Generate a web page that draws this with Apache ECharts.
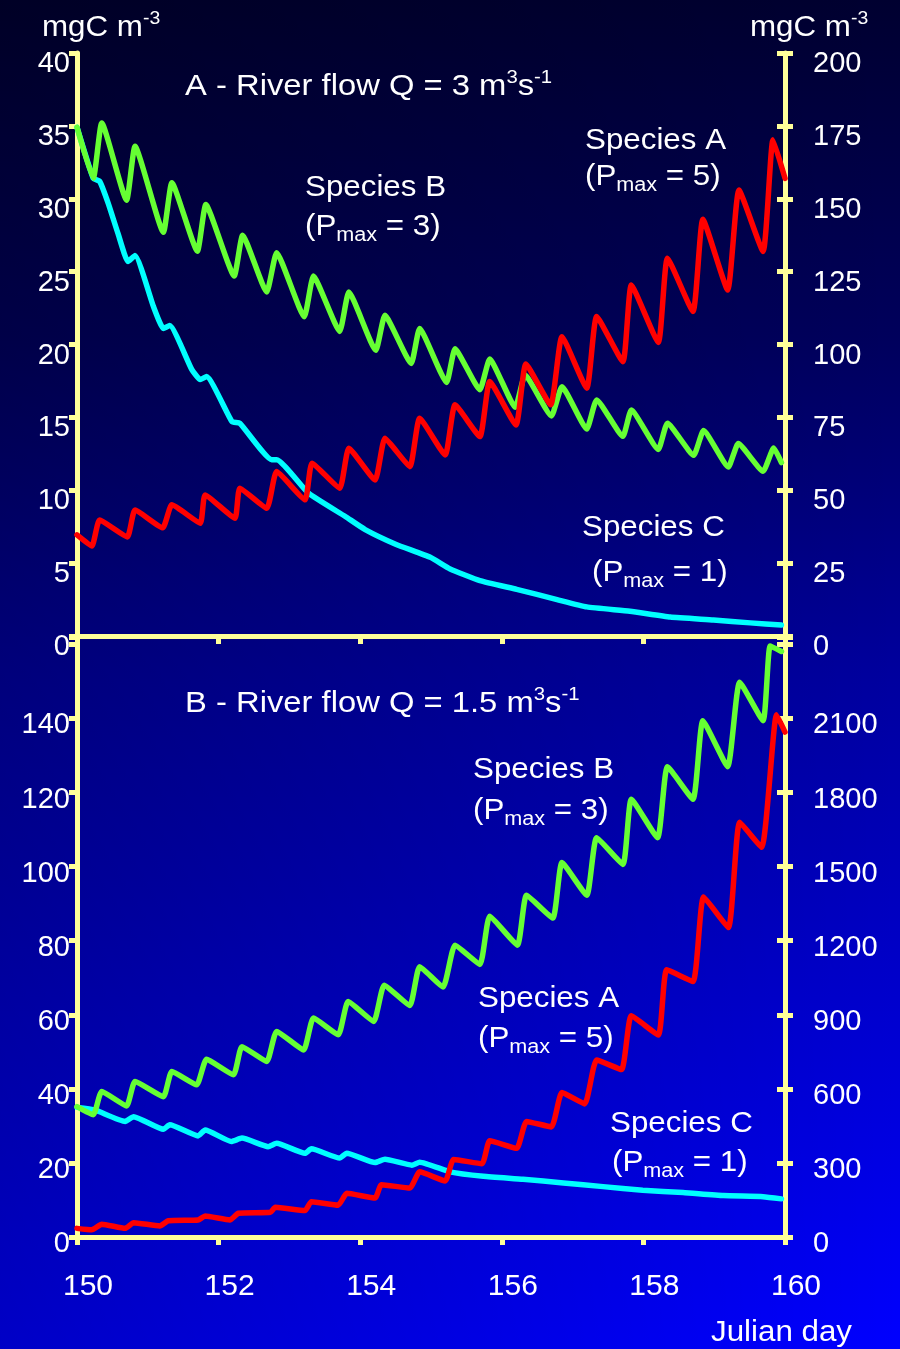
<!DOCTYPE html>
<html lang="en">
<head>
  <meta charset="UTF-8">
  <title>Species biomass, river flow A / B</title>
  <style>
    * { margin: 0; padding: 0; }
  </style>
  <script src="https://cdn.jsdelivr.net/npm/echarts/dist/echarts.min.js"></script>
</head>
<body>
  <div id="main" style="width: 900px; height: 1349px;"></div>
  <script>
    const chart = echarts.init(document.getElementById('main'))

    // x axis: Julian day
    const dayAxis = [150, 160, 2]

    // panel A (Q = 3 m3 s-1): left axis 0-40, right axis 0-200
    const aLeftAxis = [0, 40, 5]
    const aRightAxis = [0, 200, 25]
    // panel B (Q = 1.5 m3 s-1): left axis 0-140, right axis 0-2100
    const bLeftAxis = [0, 162, 20, 140]
    const bRightAxis = [0, 2430, 300, 2100]

    // panel A, species B (Pmax = 3), left axis
    const aSpeciesB = [
      [150.00, 34.9], [150.23, 31.4], [150.35, 35.2], [150.70, 29.9], [150.82, 33.6],
      [151.22, 27.7], [151.34, 31.1], [151.70, 26.4], [151.82, 29.6], [152.22, 24.7],
      [152.34, 27.5], [152.68, 23.6], [152.82, 26.3], [153.21, 21.9], [153.34, 24.7],
      [153.71, 20.9], [153.84, 23.6], [154.22, 19.6], [154.35, 22.0], [154.72, 18.7],
      [154.84, 21.1], [155.22, 17.4], [155.34, 19.7], [155.69, 16.9], [155.83, 19.0],
      [156.19, 15.7], [156.33, 17.9], [156.70, 15.1], [156.85, 17.1], [157.20, 14.2],
      [157.34, 16.2], [157.71, 13.7], [157.83, 15.5], [158.21, 12.8], [158.34, 14.6],
      [158.71, 12.4], [158.85, 14.1], [159.20, 11.6], [159.34, 13.2], [159.69, 11.3],
      [159.84, 12.9], [159.95, 11.9]
    ]
    // panel A, species C (Pmax = 1), left axis
    const aSpeciesC = [
      [150.00, 34.9], [150.23, 31.4], [150.32, 31.2], [150.44, 29.7], [150.58, 27.6],
      [150.72, 25.7], [150.82, 26.1], [151.08, 22.6], [151.22, 21.1], [151.31, 21.3],
      [151.62, 18.3], [151.74, 17.6], [151.83, 17.8], [152.19, 14.7], [152.30, 14.6],
      [152.75, 12.1], [152.82, 12.1], [153.27, 9.8], [153.79, 8.2], [154.07, 7.3],
      [154.50, 6.3], [154.99, 5.4], [155.27, 4.6], [155.69, 3.8], [156.21, 3.2],
      [156.78, 2.5], [157.20, 2.0], [157.81, 1.7], [158.38, 1.3], [158.99, 1.1],
      [159.51, 0.9], [159.95, 0.75]
    ]
    // panel A, species A (Pmax = 5), right axis
    const aSpeciesA = [
      [150.00, 34.7], [150.21, 30.9], [150.32, 39.8], [150.71, 34.0], [150.82, 43.2],
      [151.21, 37.1], [151.34, 45.0], [151.74, 38.7], [151.81, 48.4], [152.23, 40.4],
      [152.30, 50.7], [152.68, 43.8], [152.82, 56.4], [153.22, 46.7], [153.32, 59.3],
      [153.71, 50.7], [153.84, 64.4], [154.21, 53.5], [154.35, 67.8], [154.70, 58.1],
      [154.84, 74.7], [155.20, 62.1], [155.34, 79.3], [155.69, 68.4], [155.83, 87.3],
      [156.20, 72.4], [156.34, 93.3], [156.69, 79.3], [156.85, 102.7], [157.20, 85.0],
      [157.34, 109.6], [157.71, 94.1], [157.83, 120.4], [158.21, 100.7], [158.34, 129.6],
      [158.70, 111.3], [158.84, 143.0], [159.19, 118.7], [159.35, 153.0], [159.69, 131.9],
      [159.83, 170.2], [160.00, 157.0]
    ]

    // panel B, species B (Pmax = 3), left axis
    const bSpeciesB = [
      [150.00, 35.2], [150.23, 33.0], [150.35, 39.3], [150.70, 35.4], [150.82, 42.0],
      [151.22, 37.9], [151.34, 44.7], [151.69, 41.1], [151.83, 48.0], [152.21, 43.8],
      [152.33, 51.4], [152.68, 47.4], [152.82, 55.5], [153.20, 50.5], [153.34, 59.1],
      [153.69, 54.6], [153.83, 63.6], [154.19, 58.2], [154.34, 68.0], [154.70, 62.5],
      [154.84, 73.0], [155.17, 67.5], [155.34, 78.8], [155.69, 73.6], [155.83, 86.6],
      [156.22, 78.8], [156.35, 92.3], [156.72, 86.1], [156.85, 101.1], [157.20, 92.3],
      [157.34, 107.8], [157.71, 100.6], [157.83, 118.2], [158.20, 107.8], [158.34, 127.0],
      [158.70, 118.2], [158.84, 139.4], [159.19, 127.0], [159.36, 149.8], [159.69, 139.4],
      [159.79, 159.6], [159.95, 158.1]
    ]
    // panel B, species C (Pmax = 1), left axis
    const bSpeciesC = [
      [150.00, 35.0], [150.25, 34.3], [150.68, 31.2], [150.80, 32.5], [151.22, 29.1],
      [151.31, 30.3], [151.71, 27.3], [151.81, 28.9], [152.18, 25.8], [152.33, 26.7],
      [152.70, 24.4], [152.82, 25.3], [153.22, 22.6], [153.31, 23.8], [153.71, 21.3],
      [153.81, 22.6], [154.21, 20.1], [154.35, 21.0], [154.73, 19.4], [154.84, 20.2],
      [155.27, 17.6], [155.74, 16.4], [156.30, 15.6], [156.87, 14.6], [157.43, 13.6],
      [157.99, 12.6], [158.56, 12.0], [159.13, 11.2], [159.69, 10.9], [159.95, 10.3]
    ]
    // panel B, species A (Pmax = 5), right axis
    const bSpeciesA = [
      [150.00, 35], [150.21, 29], [150.35, 52], [150.68, 35], [150.80, 58],
      [151.17, 45], [151.29, 66], [151.71, 69], [151.81, 85], [152.16, 69],
      [152.28, 96], [152.73, 100], [152.80, 120], [153.22, 107], [153.31, 143],
      [153.69, 129], [153.81, 177], [154.21, 158], [154.30, 212], [154.70, 198],
      [154.84, 264], [155.20, 227], [155.32, 314], [155.72, 297], [155.83, 390],
      [156.21, 359], [156.35, 468], [156.70, 446], [156.85, 585], [157.17, 539],
      [157.34, 717], [157.69, 678], [157.83, 896], [158.21, 818], [158.33, 1082],
      [158.70, 1035], [158.85, 1377], [159.20, 1253], [159.36, 1680], [159.67, 1578],
      [159.88, 2115], [160.00, 2045]
    ]

    const yellow = '#ffff99'
    const font = '"Liberation Sans", Arial, sans-serif'

    function xAx(grid, showLabel) {
      return {
        type: 'value', gridIndex: grid,
        min: dayAxis[0], max: dayAxis[1], interval: dayAxis[2],
        axisLine: { show: true, onZero: false, lineStyle: { color: yellow, width: 5 } },
        axisTick: { show: true, length: 8, lineStyle: { color: yellow, width: 5 } },
        axisLabel: {
          show: showLabel, color: '#fff', fontSize: 30, fontFamily: font,
          margin: 35, padding: [0, 0, 0, 22]
        },
        splitLine: { show: false }
      }
    }

    // y axis; inside=true only adds the inner half of a crossing tick
    // labels sit a little below their tick, as in the original slide
    function yAx(grid, pos, ax, drop, inside) {
      const labelMax = ax[3] === undefined ? ax[1] : ax[3]
      return {
        type: 'value', gridIndex: grid, position: pos, offset: 0,
        min: ax[0], max: ax[1], interval: ax[2],
        axisLine: { show: !inside, lineStyle: { color: yellow, width: 5 } },
        axisTick: { show: true, inside: !!inside, length: 8, lineStyle: { color: yellow, width: 5 } },
        axisLabel: {
          show: !inside, color: '#fff', fontSize: 29, fontFamily: font,
          margin: pos === 'left' ? 7 : 28,
          align: pos === 'left' ? 'right' : 'left',
          verticalAlign: 'top', lineHeight: drop * 2,
          formatter: v => (v > labelMax ? '' : String(v))
        },
        splitLine: { show: false }
      }
    }

    function line(x, y, data, color) {
      return {
        type: 'line', xAxisIndex: x, yAxisIndex: y, data,
        symbol: 'none', silent: true, smooth: 0.15,
        lineStyle: { color, width: 5.5, cap: 'round', join: 'round' }
      }
    }

    const rich = {
      n: { fontSize: 29, lineHeight: 36, fontFamily: font, fill: '#fff' },
      sup: { fontSize: 18, lineHeight: 18, fontFamily: font, fill: '#fff', verticalAlign: 'top' },
      sub: { fontSize: 20, lineHeight: 14, fontFamily: font, fill: '#fff', verticalAlign: 'bottom' }
    }

    function note(x, y, text, sx) {
      return {
        type: 'text', x, y, scaleX: sx || 1.08, silent: true, z: 10,
        style: { text, rich, fill: '#fff', font: '29px ' + font }
      }
    }

    const option = {
      animation: false,
      backgroundColor: {
        type: 'linear', x: 0, y: 0, x2: 0, y2: 1,
        colorStops: [
          { offset: 0, color: '#000030' },
          { offset: 0.25, color: '#00005c' },
          { offset: 0.5, color: '#00009e' },
          { offset: 0.75, color: '#0000cf' },
          { offset: 1, color: '#0000ff' }
        ]
      },
      grid: [
        { left: 77, right: 115, top: 53, height: 583, outerBoundsMode: 'none' },
        { left: 77, right: 115, top: 637, height: 600, outerBoundsMode: 'none' }
      ],
      xAxis: [xAx(0, false), xAx(1, true)],
      yAxis: [
        yAx(0, 'left', aLeftAxis, 11),
        yAx(0, 'right', aRightAxis, 11),
        yAx(0, 'right', aRightAxis, 0, true),
        yAx(1, 'left', bLeftAxis, 7),
        yAx(1, 'right', bRightAxis, 7),
        yAx(1, 'right', bRightAxis, 0, true)
      ],
      series: [
        line(0, 0, aSpeciesC, '#00ffff'),
        line(0, 0, aSpeciesB, '#66ff33'),
        line(0, 1, aSpeciesA, '#ff0000'),
        line(1, 3, bSpeciesC, '#00ffff'),
        line(1, 3, bSpeciesB, '#66ff33'),
        line(1, 4, bSpeciesA, '#ff0000')
      ],
      graphic: [
        {
          type: 'rect', left: 0, top: 0, z: -5, silent: true,
          shape: { width: 900, height: 1349 },
          style: {
            fill: {
              type: 'linear', x: 0, y: 0, x2: 1, y2: 0,
              colorStops: [
                { offset: 0, color: 'rgba(0,0,0,0.22)' },
                { offset: 1, color: 'rgba(0,0,0,0)' }
              ]
            }
          }
        },
        note(42, 10, '{n|mgC m}{sup|-3}'),
        note(750, 10, '{n|mgC m}{sup|-3}'),
        note(711, 1315, '{n|Julian day}'),
        note(185, 69, '{n|A - River flow Q = 3 m}{sup|3}{n|s}{sup|-1}', 1.13),
        note(305, 170, '{n|Species B}'),
        note(305, 209, '{n|(P}{sub|max}{n| = 3)}'),
        note(585, 123, '{n|Species A}'),
        note(585, 159, '{n|(P}{sub|max}{n| = 5)}'),
        note(582, 510, '{n|Species C}'),
        note(592, 555, '{n|(P}{sub|max}{n| = 1)}'),
        note(185, 686, '{n|B - River flow Q = 1.5 m}{sup|3}{n|s}{sup|-1}', 1.13),
        note(473, 752, '{n|Species B}'),
        note(473, 793, '{n|(P}{sub|max}{n| = 3)}'),
        note(478, 981, '{n|Species A}'),
        note(478, 1021, '{n|(P}{sub|max}{n| = 5)}'),
        note(610, 1106, '{n|Species C}'),
        note(612, 1145, '{n|(P}{sub|max}{n| = 1)}')
      ]
    }

    chart.setOption(option)
  </script>
</body>
</html>
